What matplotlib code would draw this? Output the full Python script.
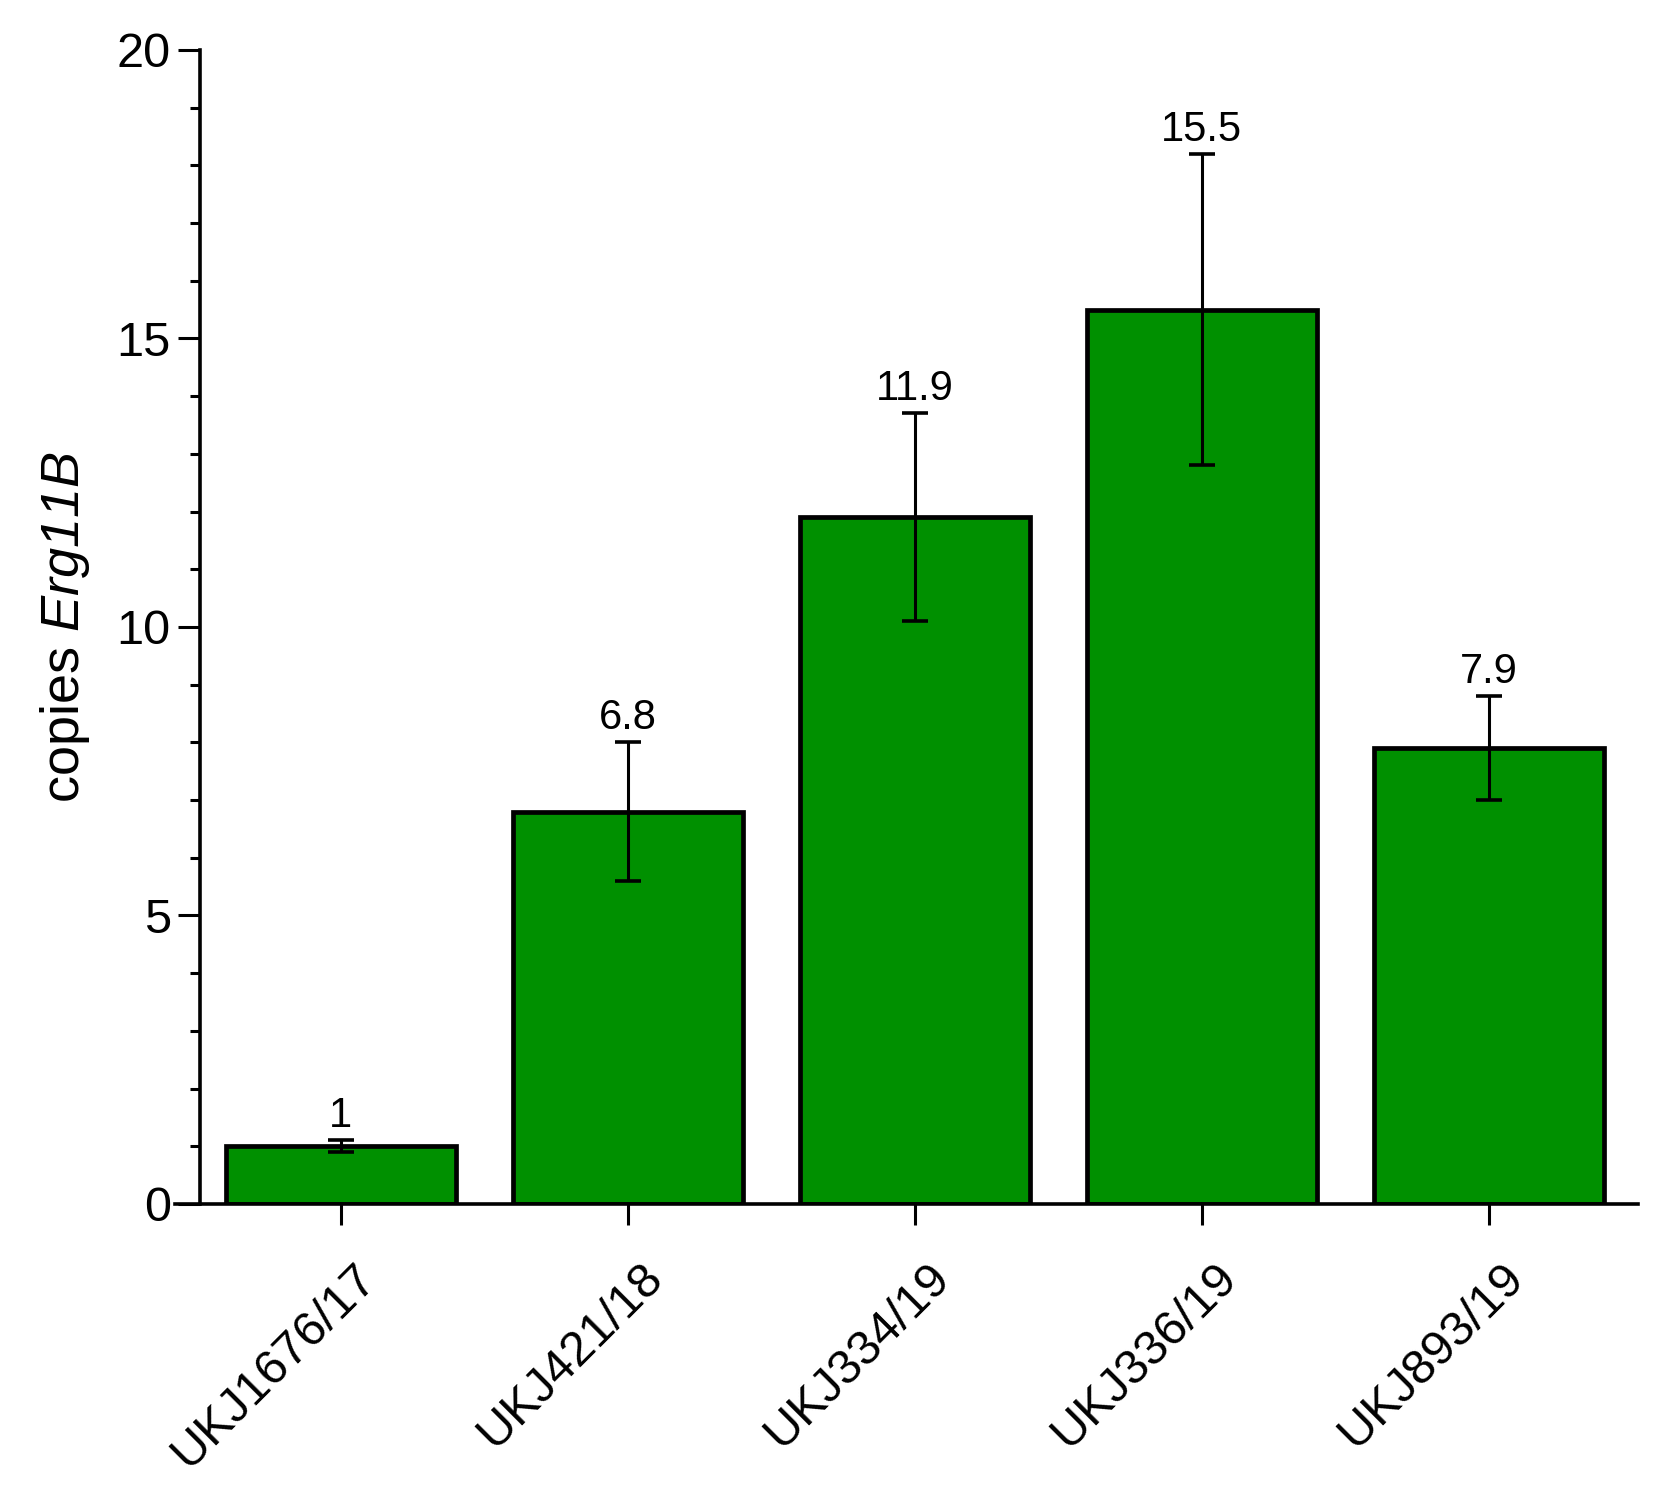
import numpy as np
import matplotlib
matplotlib.use("Agg")
import matplotlib.pyplot as plt
from matplotlib.ticker import MultipleLocator
from matplotlib.transforms import ScaledTranslation

plt.rcParams['font.family'] = ['Liberation Sans', 'DejaVu Sans']
# everything inside $...$ in italic Liberation Sans (gene name)
plt.rcParams['mathtext.fontset'] = 'custom'
plt.rcParams['mathtext.rm'] = 'Liberation Sans:italic'
plt.rcParams['mathtext.it'] = 'Liberation Sans:italic'

# data
strains = ["UKJ1676/17", "UKJ421/18", "UKJ334/19", "UKJ336/19", "UKJ893/19"]
copies = [1.0, 6.8, 11.9, 15.5, 7.9]
errors = [0.1, 1.2, 1.8, 2.7, 0.9]
labels = ["1", "6.8", "11.9", "15.5", "7.9"]

fig = plt.figure(figsize=(16.62, 15.04), dpi=100)
ax = fig.add_axes([0.1053, 0.1995, 0.8803, 0.7673])

x = np.arange(len(strains))
ax.bar(x, copies, width=0.8, color="#009000", edgecolor="black", linewidth=3.4, zorder=2)
ax.errorbar(x, copies, yerr=errors, fmt="none", ecolor="black", elinewidth=2.2,
            capsize=9.5, capthick=2.6, zorder=3)

for xi, v, e, lab in zip(x, copies, errors, labels):
    ax.annotate(lab, (xi, v + e), xytext=(0, 3), textcoords="offset points",
                ha="center", va="bottom", fontsize=30)

ax.set_xlim(-0.578, 4.52)
ax.set_ylim(0, 20)

ax.spines["top"].set_visible(False)
ax.spines["right"].set_visible(False)
ax.spines["left"].set_position(("data", -0.491))
ax.spines["left"].set_linewidth(2.6)
ax.spines["bottom"].set_linewidth(2.6)

ax.yaxis.set_major_locator(MultipleLocator(5))
ax.yaxis.set_minor_locator(MultipleLocator(1))
ax.tick_params(axis="y", which="major", direction="out", length=16, width=2.2, labelsize=35, pad=5)
ax.tick_params(axis="y", which="minor", direction="out", length=7, width=2.2)

ax.set_xticks(x)
ax.set_xticklabels(strains, rotation=45, ha="right", va="top", rotation_mode="anchor")
ax.tick_params(axis="x", which="major", direction="out", length=15, width=2.2, labelsize=35, pad=22)
shift = ScaledTranslation(0.12, 0, fig.dpi_scale_trans)
for t in ax.get_xticklabels():
    t.set_transform(t.get_transform() + shift)

ax.set_ylabel("copies $Erg11B$", fontsize=39, labelpad=18)

fig.savefig("out.png", dpi=100)
